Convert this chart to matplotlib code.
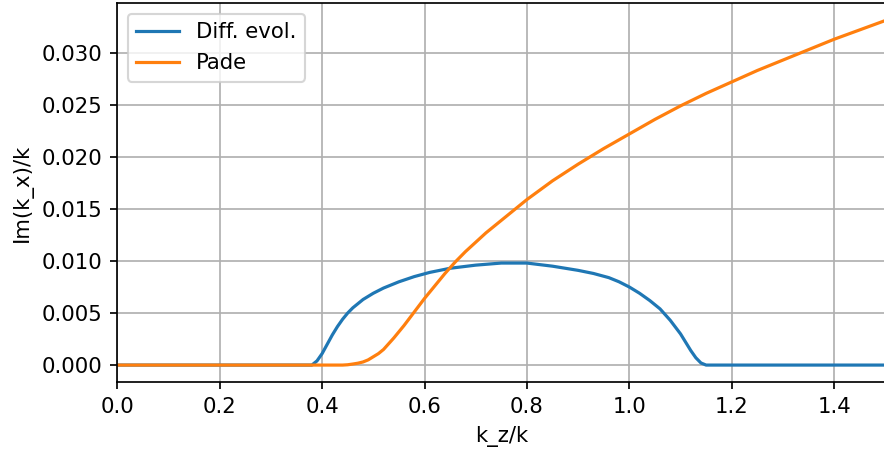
import matplotlib
matplotlib.use("Agg")
import matplotlib.pyplot as plt

# differential evolution result, Im(k_x)/k vs k_z/k
de_kz = [0.0, 0.38, 0.39, 0.40, 0.41, 0.42, 0.43, 0.44, 0.45, 0.46,
         0.47, 0.48, 0.50, 0.52, 0.55, 0.58, 0.61, 0.65, 0.70, 0.75,
         0.80, 0.85, 0.90, 0.93, 0.96, 0.98, 1.00, 1.02, 1.04, 1.06,
         1.08, 1.10, 1.11, 1.12, 1.13, 1.14, 1.15, 1.50]
de_im = [0.0, 0.0, 0.0004, 0.0011, 0.0020, 0.0029, 0.0037, 0.0044, 0.0050, 0.0055,
         0.0059, 0.0063, 0.0069, 0.0074, 0.0080, 0.0085, 0.0089, 0.0093, 0.0096, 0.0098,
         0.0098, 0.0095, 0.0091, 0.0088, 0.0084, 0.0080, 0.0075, 0.0069, 0.0062, 0.0054,
         0.0043, 0.0030, 0.0022, 0.0014, 0.0007, 0.0002, 0.0, 0.0]

# Pade approximation
pade_kz = [0.0, 0.44, 0.45, 0.46, 0.47, 0.48, 0.49, 0.50, 0.51, 0.52,
           0.54, 0.56, 0.58, 0.60, 0.62, 0.64, 0.66, 0.68, 0.70, 0.72,
           0.75, 0.80, 0.85, 0.90, 0.95, 1.00, 1.05, 1.10, 1.15, 1.20,
           1.25, 1.30, 1.35, 1.40, 1.45, 1.50]
pade_im = [0.0, 0.0, 0.00003, 0.0001, 0.00018, 0.0003, 0.0005, 0.0008, 0.0011, 0.0015,
           0.0026, 0.0038, 0.0051, 0.0064, 0.0076, 0.0088, 0.0099, 0.0109, 0.0118, 0.0127,
           0.0139, 0.0159, 0.0177, 0.0193, 0.0208, 0.0222, 0.0236, 0.0249, 0.0261, 0.0272,
           0.0283, 0.0293, 0.0303, 0.0313, 0.0322, 0.0331]

dpi = 153
fig = plt.figure(figsize=(884 / dpi, 452 / dpi), dpi=dpi)
ax = fig.add_axes([117.3 / 884, 69.7 / 452, 768.0 / 884, 379.0 / 452])

ax.plot(de_kz, de_im, label="Diff. evol.")
ax.plot(pade_kz, pade_im, label="Pade")
ax.set_xlim(0, 1.5)
ax.set_xlabel("k_z/k")
ax.set_ylabel("Im(k_x)/k")
ax.grid(True)
ax.legend(loc="upper left")

fig.savefig("out.png", dpi=dpi)
